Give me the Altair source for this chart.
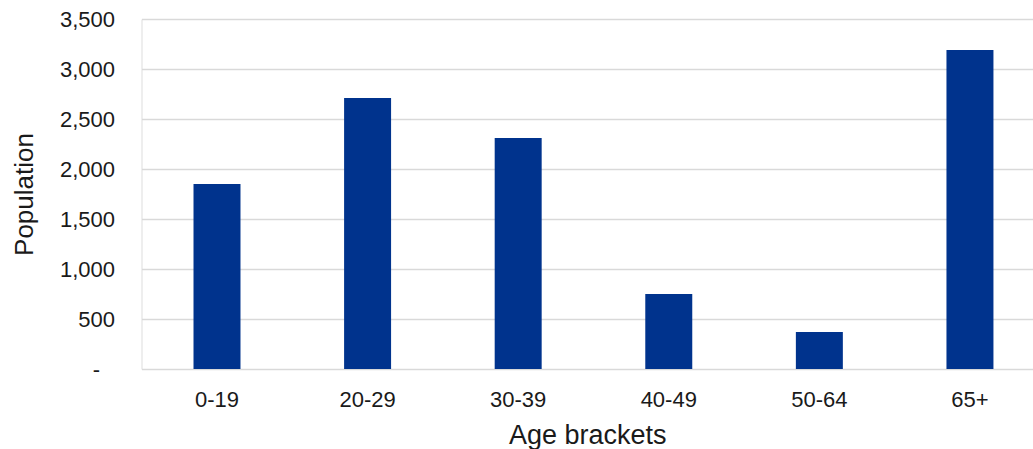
import altair as alt
import pandas as pd

categories = ["0-19", "20-29", "30-39", "40-49", "50-64", "65+"]
population = [1850, 2710, 2310, 750, 370, 3190]
y_ticks = [0, 500, 1000, 1500, 2000, 2500, 3000, 3500]

df = pd.DataFrame({"bracket": categories, "population": population})

FONT = "Liberation Sans"
TEXT = "#1a1a1a"

chart = alt.Chart(df).mark_bar(color="#00338D").encode(
    x=alt.X(
        "bracket:N",
        sort=categories,
        scale=alt.Scale(paddingInner=0.688, paddingOuter=0.304, align=0.568),
        axis=alt.Axis(
            title="Age brackets",
            labelAngle=0,
            ticks=False,
            domain=False,
            labelPadding=20,
            labelFontSize=22,
            labelFont=FONT,
            labelColor=TEXT,
            titleFont=FONT,
            titleFontSize=27,
            titleFontWeight="normal",
            titleColor=TEXT,
            titlePadding=12,
        ),
    ),
    y=alt.Y(
        "population:Q",
        scale=alt.Scale(domain=[0, 3500], nice=False),
        axis=alt.Axis(
            title="Population",
            values=y_ticks,
            labelExpr="datum.value == 0 ? '-' : format(datum.value, ',')",
            ticks=False,
            domain=False,
            labelPadding={"condition": {"test": "datum.value == 0", "value": 42}, "value": 27},
            labelFontSize=22,
            labelFont=FONT,
            labelColor=TEXT,
            gridColor="#d9d9d9",
            gridWidth=1.4,
            titleFont=FONT,
            titleFontSize=26,
            titleFontWeight="normal",
            titleColor=TEXT,
            titlePadding=22,
        ),
    ),
).properties(
    width=891.5,
    height=350,
    autosize=alt.AutoSizeParams(type="none"),
    padding={"left": 141.5, "top": 19, "right": 0, "bottom": 80},
).configure_view(stroke=None).configure(background="white")

chart.save("out.html", embed_options={"renderer": "svg", "actions": False})
